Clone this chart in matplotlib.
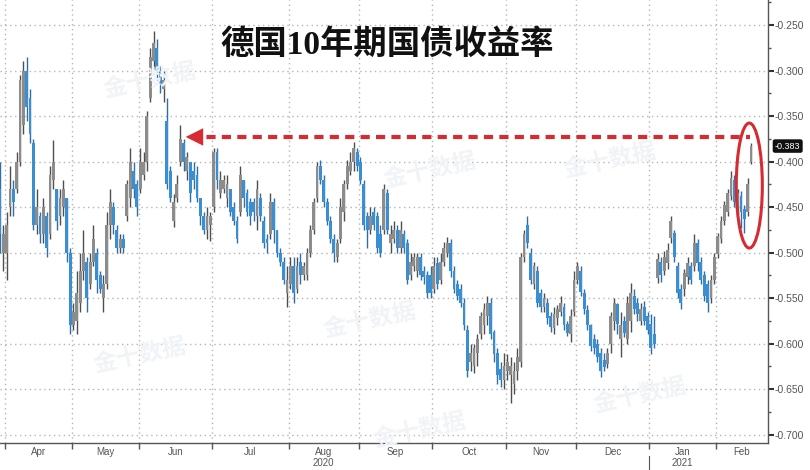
import matplotlib
matplotlib.use('Agg')
import matplotlib.pyplot as plt
import matplotlib.transforms as mtransforms
from matplotlib.patches import Ellipse
from matplotlib.ticker import FixedLocator, FormatStrFormatter, MultipleLocator
import pandas as pd


# daily OHLC of the German 10y yield (30 Mar 2020 - 15 Feb 2021)
opens = [
    -0.43, -0.50, -0.50, -0.45, -0.43, -0.43, -0.40, -0.36, -0.30, -0.33,
    -0.38, -0.47, -0.46, -0.48, -0.46, -0.48, -0.42, -0.43, -0.46, -0.45,
    -0.44, -0.50, -0.58, -0.575, -0.555, -0.52, -0.51, -0.535, -0.51, -0.50,
    -0.525, -0.55, -0.535, -0.47, -0.45, -0.475, -0.495, -0.485, -0.46, -0.44,
    -0.41, -0.425, -0.43, -0.415, -0.40, -0.33, -0.29, -0.275, -0.30, -0.32,
    -0.355, -0.41, -0.465, -0.44, -0.40, -0.38, -0.41, -0.40, -0.41, -0.415,
    -0.44, -0.46, -0.475, -0.47, -0.45, -0.39, -0.435, -0.43, -0.44, -0.43,
    -0.45, -0.465, -0.455, -0.42, -0.435, -0.445, -0.445, -0.46, -0.44, -0.465,
    -0.485, -0.48, -0.445, -0.475, -0.50, -0.51, -0.545, -0.535, -0.515, -0.54,
    -0.51, -0.525, -0.525, -0.50, -0.475, -0.44, -0.405, -0.42, -0.445, -0.465,
    -0.485, -0.505, -0.485, -0.455, -0.425, -0.41, -0.40, -0.39, -0.40, -0.425,
    -0.46, -0.475, -0.455, -0.46, -0.48, -0.475, -0.435, -0.49, -0.485, -0.475,
    -0.495, -0.48, -0.49, -0.525, -0.515, -0.52, -0.505, -0.52, -0.525, -0.525,
    -0.54, -0.512, -0.53, -0.51, -0.50, -0.49, -0.52, -0.535, -0.54, -0.555,
    -0.585, -0.62, -0.625, -0.61, -0.59, -0.58, -0.57, -0.556, -0.587, -0.61,
    -0.628, -0.64, -0.63, -0.635, -0.645, -0.63, -0.62, -0.505, -0.47, -0.50,
    -0.535, -0.52, -0.545, -0.56, -0.555, -0.57, -0.583, -0.572, -0.565, -0.56,
    -0.578, -0.59, -0.565, -0.53, -0.52, -0.545, -0.563, -0.58, -0.595, -0.60,
    -0.61, -0.618, -0.622, -0.60, -0.575, -0.557, -0.595, -0.575, -0.595, -0.575,
    -0.548, -0.555, -0.575, -0.56, -0.57, -0.578, -0.59, -0.528, -0.51, -0.52,
    -0.512, -0.484, -0.478, -0.515, -0.54, -0.54, -0.527, -0.515, -0.515, -0.49,
    -0.51, -0.525, -0.535, -0.55, -0.53, -0.502, -0.485, -0.465, -0.455, -0.438,
    -0.42, -0.452, -0.438, -0.452, -0.456, -0.40,
]
highs = [
    -0.40, -0.47, -0.455, -0.405, -0.42, -0.39, -0.305, -0.29, -0.285, -0.32,
    -0.375, -0.43, -0.455, -0.44, -0.455, -0.405, -0.376, -0.43, -0.43, -0.42,
    -0.44, -0.495, -0.555, -0.52, -0.50, -0.475, -0.505, -0.50, -0.47, -0.495,
    -0.52, -0.525, -0.455, -0.43, -0.445, -0.47, -0.48, -0.48, -0.42, -0.385,
    -0.40, -0.42, -0.385, -0.39, -0.345, -0.275, -0.257, -0.265, -0.295, -0.30,
    -0.33, -0.405, -0.436, -0.415, -0.36, -0.375, -0.39, -0.40, -0.40, -0.405,
    -0.44, -0.455, -0.45, -0.455, -0.385, -0.385, -0.41, -0.415, -0.415, -0.43,
    -0.445, -0.46, -0.405, -0.42, -0.43, -0.44, -0.44, -0.42, -0.435, -0.46,
    -0.48, -0.435, -0.44, -0.475, -0.495, -0.505, -0.515, -0.505, -0.505, -0.505,
    -0.50, -0.51, -0.495, -0.47, -0.44, -0.40, -0.398, -0.415, -0.44, -0.46,
    -0.48, -0.485, -0.44, -0.42, -0.398, -0.39, -0.378, -0.385, -0.395, -0.42,
    -0.455, -0.45, -0.45, -0.455, -0.47, -0.425, -0.43, -0.47, -0.465, -0.47,
    -0.465, -0.475, -0.485, -0.50, -0.50, -0.50, -0.50, -0.515, -0.52, -0.515,
    -0.505, -0.505, -0.50, -0.488, -0.483, -0.485, -0.515, -0.53, -0.535, -0.55,
    -0.58, -0.60, -0.60, -0.59, -0.565, -0.555, -0.548, -0.55, -0.585, -0.605,
    -0.62, -0.61, -0.612, -0.615, -0.62, -0.605, -0.50, -0.475, -0.46, -0.495,
    -0.51, -0.515, -0.54, -0.545, -0.55, -0.565, -0.56, -0.558, -0.548, -0.555,
    -0.575, -0.562, -0.52, -0.51, -0.515, -0.54, -0.558, -0.578, -0.59, -0.595,
    -0.605, -0.61, -0.605, -0.565, -0.55, -0.556, -0.565, -0.57, -0.548, -0.534,
    -0.54, -0.55, -0.555, -0.553, -0.565, -0.567, -0.57, -0.50, -0.505, -0.498,
    -0.49, -0.46, -0.475, -0.51, -0.535, -0.518, -0.505, -0.51, -0.48, -0.485,
    -0.505, -0.52, -0.53, -0.525, -0.50, -0.478, -0.46, -0.443, -0.43, -0.41,
    -0.415, -0.43, -0.432, -0.448, -0.418, -0.38,
]
lows = [
    -0.50, -0.52, -0.53, -0.46, -0.46, -0.435, -0.405, -0.37, -0.355, -0.38,
    -0.475, -0.48, -0.49, -0.49, -0.505, -0.485, -0.43, -0.475, -0.47, -0.46,
    -0.51, -0.59, -0.585, -0.59, -0.565, -0.53, -0.565, -0.54, -0.515, -0.545,
    -0.545, -0.565, -0.54, -0.485, -0.48, -0.50, -0.50, -0.50, -0.465, -0.45,
    -0.44, -0.46, -0.435, -0.42, -0.41, -0.335, -0.30, -0.31, -0.325, -0.335,
    -0.43, -0.445, -0.472, -0.445, -0.405, -0.41, -0.42, -0.445, -0.43, -0.445,
    -0.47, -0.48, -0.485, -0.487, -0.455, -0.43, -0.44, -0.435, -0.45, -0.46,
    -0.47, -0.49, -0.46, -0.45, -0.46, -0.47, -0.465, -0.475, -0.465, -0.495,
    -0.50, -0.485, -0.49, -0.505, -0.515, -0.535, -0.56, -0.54, -0.555, -0.545,
    -0.535, -0.53, -0.53, -0.505, -0.48, -0.445, -0.425, -0.45, -0.47, -0.49,
    -0.51, -0.51, -0.49, -0.465, -0.43, -0.415, -0.41, -0.41, -0.425, -0.475,
    -0.495, -0.48, -0.475, -0.50, -0.505, -0.48, -0.48, -0.50, -0.49, -0.50,
    -0.50, -0.50, -0.535, -0.53, -0.52, -0.527, -0.53, -0.535, -0.55, -0.55,
    -0.545, -0.54, -0.535, -0.515, -0.505, -0.527, -0.545, -0.552, -0.56, -0.585,
    -0.637, -0.63, -0.632, -0.625, -0.595, -0.59, -0.58, -0.595, -0.62, -0.645,
    -0.648, -0.65, -0.64, -0.665, -0.655, -0.64, -0.626, -0.51, -0.495, -0.535,
    -0.54, -0.56, -0.565, -0.565, -0.578, -0.587, -0.59, -0.58, -0.57, -0.585,
    -0.592, -0.598, -0.57, -0.535, -0.548, -0.568, -0.585, -0.608, -0.612, -0.62,
    -0.637, -0.63, -0.627, -0.61, -0.585, -0.59, -0.615, -0.593, -0.60, -0.587,
    -0.567, -0.575, -0.58, -0.58, -0.59, -0.612, -0.605, -0.533, -0.532, -0.525,
    -0.518, -0.49, -0.51, -0.55, -0.562, -0.548, -0.535, -0.535, -0.52, -0.52,
    -0.535, -0.553, -0.565, -0.555, -0.535, -0.506, -0.49, -0.47, -0.46, -0.442,
    -0.45, -0.458, -0.473, -0.478, -0.46, -0.403,
]
closes = [
    -0.48, -0.48, -0.47, -0.43, -0.445, -0.40, -0.31, -0.30, -0.34, -0.37,
    -0.47, -0.45, -0.48, -0.45, -0.495, -0.415, -0.40, -0.465, -0.44, -0.43,
    -0.50, -0.58, -0.565, -0.545, -0.52, -0.50, -0.55, -0.51, -0.485, -0.53,
    -0.54, -0.535, -0.47, -0.445, -0.47, -0.495, -0.485, -0.495, -0.425, -0.40,
    -0.43, -0.45, -0.40, -0.40, -0.35, -0.285, -0.27, -0.30, -0.315, -0.31,
    -0.425, -0.44, -0.445, -0.425, -0.375, -0.40, -0.395, -0.435, -0.42, -0.44,
    -0.46, -0.475, -0.46, -0.46, -0.39, -0.42, -0.42, -0.42, -0.425, -0.455,
    -0.465, -0.485, -0.415, -0.44, -0.455, -0.46, -0.455, -0.43, -0.46, -0.49,
    -0.49, -0.445, -0.475, -0.50, -0.51, -0.53, -0.53, -0.515, -0.545, -0.515,
    -0.525, -0.515, -0.50, -0.475, -0.445, -0.405, -0.42, -0.445, -0.465, -0.485,
    -0.50, -0.49, -0.45, -0.425, -0.405, -0.40, -0.385, -0.405, -0.42, -0.47,
    -0.475, -0.46, -0.47, -0.495, -0.50, -0.43, -0.475, -0.48, -0.475, -0.495,
    -0.475, -0.495, -0.53, -0.51, -0.505, -0.505, -0.525, -0.527, -0.545, -0.545,
    -0.515, -0.535, -0.51, -0.495, -0.49, -0.52, -0.54, -0.548, -0.556, -0.58,
    -0.63, -0.61, -0.605, -0.595, -0.57, -0.562, -0.555, -0.59, -0.612, -0.635,
    -0.64, -0.625, -0.62, -0.625, -0.63, -0.615, -0.505, -0.48, -0.49, -0.53,
    -0.515, -0.555, -0.56, -0.55, -0.572, -0.582, -0.568, -0.562, -0.555, -0.58,
    -0.588, -0.57, -0.53, -0.515, -0.543, -0.562, -0.58, -0.603, -0.605, -0.615,
    -0.63, -0.626, -0.61, -0.57, -0.556, -0.578, -0.58, -0.588, -0.555, -0.545,
    -0.562, -0.568, -0.562, -0.575, -0.585, -0.605, -0.60, -0.507, -0.525, -0.505,
    -0.497, -0.465, -0.505, -0.545, -0.555, -0.522, -0.512, -0.53, -0.49, -0.512,
    -0.53, -0.548, -0.556, -0.53, -0.505, -0.482, -0.465, -0.448, -0.435, -0.418,
    -0.445, -0.435, -0.456, -0.463, -0.425, -0.383,
]

holidays = ['2020-04-10', '2020-04-13', '2020-05-01', '2020-12-25', '2021-01-01']
year_labels = {'Aug': '2020', 'Jan': '2021'}
title = '德国10年期国债收益率'
last_label = '-0.383'
arrow_level = -0.373
watermark = '金十数据'

UP = '#8c8c8c'
UP_WICK = '#4f4f4f'
DOWN = '#3a8ed2'
DOWN_WICK = '#2d6fa6'
RED = '#d62b31'

dates = pd.bdate_range('2020-03-30', '2021-02-15')
dates = dates[~dates.isin(pd.to_datetime(holidays))]
x = list(range(len(dates)))

fig = plt.figure(figsize=(8.1, 4.7), dpi=100)
ax = fig.add_axes([0, 27 / 470, 768 / 810, 443 / 470])
xmax = 230.1
ax.set_xlim(0, xmax)
ax.set_ylim(-0.7093, -0.2225)

# faint watermarks
for px, py in [(150, 80), (140, 355), (370, 320), (420, 430), (430, 170), (610, 160), (640, 395)]:
    fig.text(px / 810, 1 - py / 470, watermark, fontsize=17, color='#f1f4f7',
             rotation=12, ha='center', va='center', family=['Noto Sans CJK SC'],
             fontweight='bold', zorder=0)

# candles
for i in x:
    o, h, l, c = opens[i], highs[i], lows[i], closes[i]
    up = c >= o
    ax.vlines(i, l, h, color=UP_WICK if up else DOWN_WICK, lw=1.0, zorder=3)
    ax.bar(i, max(abs(c - o), 0.002), bottom=min(o, c), width=0.85,
           color=UP if up else DOWN, edgecolor='none', zorder=4)

# month ticks at month boundaries, labels centred in between
bounds = [i - 0.5 for i in range(1, len(dates)) if dates[i].month != dates[i - 1].month]
names = [dates[int(b + 0.5)].strftime('%b') for b in bounds]
edges = bounds + [xmax]
centers = [(edges[k] + edges[k + 1]) / 2 for k in range(len(bounds))]
labels = [n + '\n' + year_labels[n] if n in year_labels else n for n in names]

ax.xaxis.set_major_locator(FixedLocator(bounds))
ax.xaxis.set_major_formatter(plt.NullFormatter())
ax.xaxis.set_minor_locator(FixedLocator(centers))
ax.set_xticklabels(labels, minor=True)
ax.tick_params(axis='x', which='major', direction='out', length=4, color='#555555', width=1)
ax.tick_params(axis='x', which='minor', length=0, pad=3, labelsize=7, labelcolor='#555555')
for lab in ax.get_xticklabels(minor=True):
    lab.set_family('Liberation Sans')
    lab.set_linespacing(1.1)

# year separator below the axis
trans = mtransforms.blended_transform_factory(ax.transData, ax.transAxes)
jan = bounds[names.index('Jan')]
ax.plot([jan, jan], [-0.03, -0.07], transform=trans, color='#555555', lw=0.8, clip_on=False)

# right-hand value axis
ax.yaxis.tick_right()
ax.yaxis.set_major_locator(MultipleLocator(0.05))
ax.yaxis.set_minor_locator(MultipleLocator(0.025))
ax.yaxis.set_major_formatter(FormatStrFormatter('%.3f'))
ax.tick_params(axis='y', which='major', direction='out', length=4, width=1.5,
               color='#333333', labelsize=7.5, labelcolor='#555555', pad=1)
ax.tick_params(axis='y', which='minor', direction='out', length=2, width=1, color='#555555')
for lab in ax.get_yticklabels():
    lab.set_family('Liberation Sans')

ax.grid(True, which='major', color='#b5b5b5', linestyle=(0, (1, 2.5)), lw=1)
ax.set_axisbelow(True)
for side in ['left', 'top']:
    ax.spines[side].set_visible(False)
for side in ['right', 'bottom']:
    ax.spines[side].set_color('#555555')
    ax.spines[side].set_linewidth(1)

# red dashed arrow back to the June level, ellipse round the last candles
last = x[-1]
tip = 54.8
ax.hlines(arrow_level, tip + 2.5, last - 0.3, colors=RED, lw=3.0,
          linestyles=[(0, (2.2, 1.5))], zorder=6)
ax.annotate('', xy=(tip, arrow_level), xytext=(tip + 3.2, arrow_level),
            arrowprops=dict(arrowstyle='-|>,head_length=0.9,head_width=0.45',
                            color=RED, lw=0, mutation_scale=14), zorder=6)
ax.add_patch(Ellipse((last - 0.5, -0.4264), 7.8, 0.1374, fill=False,
                     edgecolor=RED, lw=2.2, zorder=6))

# last value tag
ax.annotate(last_label, xy=(1, closes[-1]), xycoords=('axes fraction', 'data'),
            xytext=(5, 0), textcoords='offset points', ha='left', va='center',
            fontsize=6.5, color='white', family='Liberation Sans',
            bbox=dict(boxstyle='round,pad=0.25', fc='#111111', ec='none'),
            annotation_clip=False, zorder=7)

fig.text(387 / 810, 1 - 45 / 470, title, fontsize=24, fontweight='bold', color='#111111',
         ha='center', va='center', family=['Liberation Serif', 'Noto Sans CJK SC'])

fig.savefig('out.png', dpi=100)
